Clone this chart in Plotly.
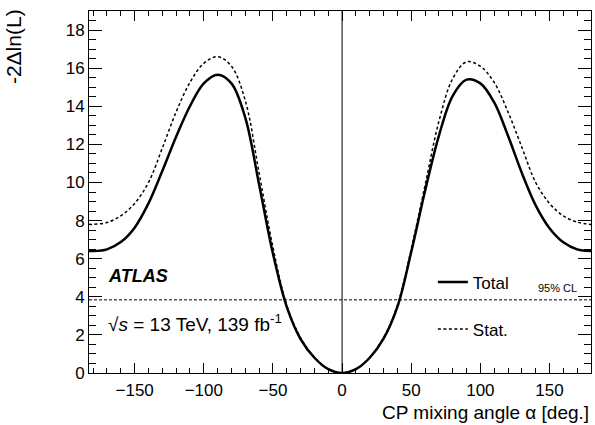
import plotly.graph_objects as go

# CP mixing angle alpha [deg]
alpha = [-183, -180, -170, -160, -150, -140, -130, -120, -110, -100, -90, -80, -70, -60, -50, -40, -30, -20, -10,
         0, 10, 20, 30, 40, 50, 60, 70, 80, 90, 100, 110, 120, 130, 140, 150, 160, 170, 180]

# -2 Delta ln(L), total uncertainty
total = [6.41, 6.40, 6.49, 6.87, 7.63, 8.90, 10.60, 12.40, 14.00, 15.20, 15.66, 15.20, 13.40, 9.90, 6.27, 3.47, 1.78, 0.80, 0.20,
         0.00, 0.20, 0.80, 1.80, 3.47, 6.35, 9.55, 12.45, 14.55, 15.40, 15.20, 14.20, 12.45, 10.50, 8.80, 7.60, 6.86, 6.49, 6.40]

# -2 Delta ln(L), statistical uncertainty only
stat = [7.81, 7.80, 7.90, 8.25, 8.90, 10.00, 11.80, 13.70, 15.25, 16.25, 16.60, 16.10, 14.30, 10.50, 6.60, 3.55, 1.85, 0.82, 0.20,
        0.00, 0.20, 0.82, 1.85, 3.55, 6.50, 9.85, 13.20, 15.45, 16.33, 16.10, 15.25, 13.70, 11.85, 10.00, 8.90, 8.25, 7.92, 7.80]

cl95 = 3.84
x_range = [-183, 180]
y_range = [0, 19]

FONT = "Liberation Sans, Arial, Helvetica, sans-serif"

fig = go.Figure()
fig.add_trace(go.Scatter(x=alpha, y=total, mode="lines", name="Total", legendgroup="a",
                         line=dict(color="black", width=2.5, shape="spline", smoothing=1.0)))
fig.add_trace(go.Scatter(x=alpha, y=stat, mode="lines", name="Stat.", legendgroup="b",
                         line=dict(color="black", width=1.5, dash="3px,2.5px", shape="spline", smoothing=1.0)))

fig.add_shape(type="line", xref="paper", x0=0, x1=1, yref="y", y0=cl95, y1=cl95,
              line=dict(color="black", width=1, dash="3px,2px"))
fig.add_shape(type="line", xref="x", x0=0, x1=0, yref="paper", y0=0, y1=1,
              line=dict(color="black", width=1))

fig.add_annotation(x=155.5, y=cl95, xref="x", yref="y", text="95% CL", showarrow=False,
                   xanchor="center", yanchor="bottom", yshift=4, font=dict(family=FONT, size=11, color="black"))
fig.add_annotation(x=-170.5, y=5.1, xref="x", yref="y", text="<b><i>ATLAS</i></b>", showarrow=False,
                   xanchor="left", yanchor="middle", font=dict(family=FONT, size=18, color="black"))
fig.add_annotation(x=-170.5, y=2.65, xref="x", yref="y", text="√<i>s</i> = 13 TeV, 139 fb<sup>-1</sup>",
                   showarrow=False, xanchor="left", yanchor="middle", font=dict(family=FONT, size=19, color="black"))

fig.add_annotation(x=1.0, y=-0.143, xref="paper", yref="paper", text="CP mixing angle α [deg.]", showarrow=False,
                   xanchor="right", yanchor="bottom", font=dict(family=FONT, size=19, color="black"))
fig.add_annotation(x=-0.149, y=1.01, xref="paper", yref="paper", text="-2Δln(L)", showarrow=False,
                   textangle=-90, xanchor="center", yanchor="top", font=dict(family=FONT, size=21, color="black"))

axis_common = dict(showline=True, linecolor="black", linewidth=1, mirror="allticks", ticks="inside",
                   tickcolor="black", tickwidth=1, showgrid=False, zeroline=False,
                   tickfont=dict(family=FONT, size=17, color="black"))

fig.update_xaxes(range=x_range, tickmode="linear", tick0=0, dtick=50, ticklen=10, ticklabelstandoff=2,
                 minor=dict(ticks="inside", dtick=10, ticklen=5, tickcolor="black", showgrid=False),
                 **axis_common)
fig.update_yaxes(range=y_range, tickmode="linear", tick0=0, dtick=2, ticklen=13,
                 minor=dict(ticks="inside", dtick=0.5, ticklen=7, tickcolor="black", showgrid=False),
                 **axis_common)

fig.update_layout(
    width=595, height=425,
    margin=dict(l=89, r=4, t=11, b=52),
    paper_bgcolor="white", plot_bgcolor="white",
    font=dict(family=FONT, color="black"),
    showlegend=True,
    legend=dict(x=0.685, y=0.30, xanchor="left", yanchor="top", bgcolor="rgba(0,0,0,0)",
                font=dict(family=FONT, size=17, color="black"), tracegroupgap=22, itemwidth=30),
)

fig.write_html("out.html")
